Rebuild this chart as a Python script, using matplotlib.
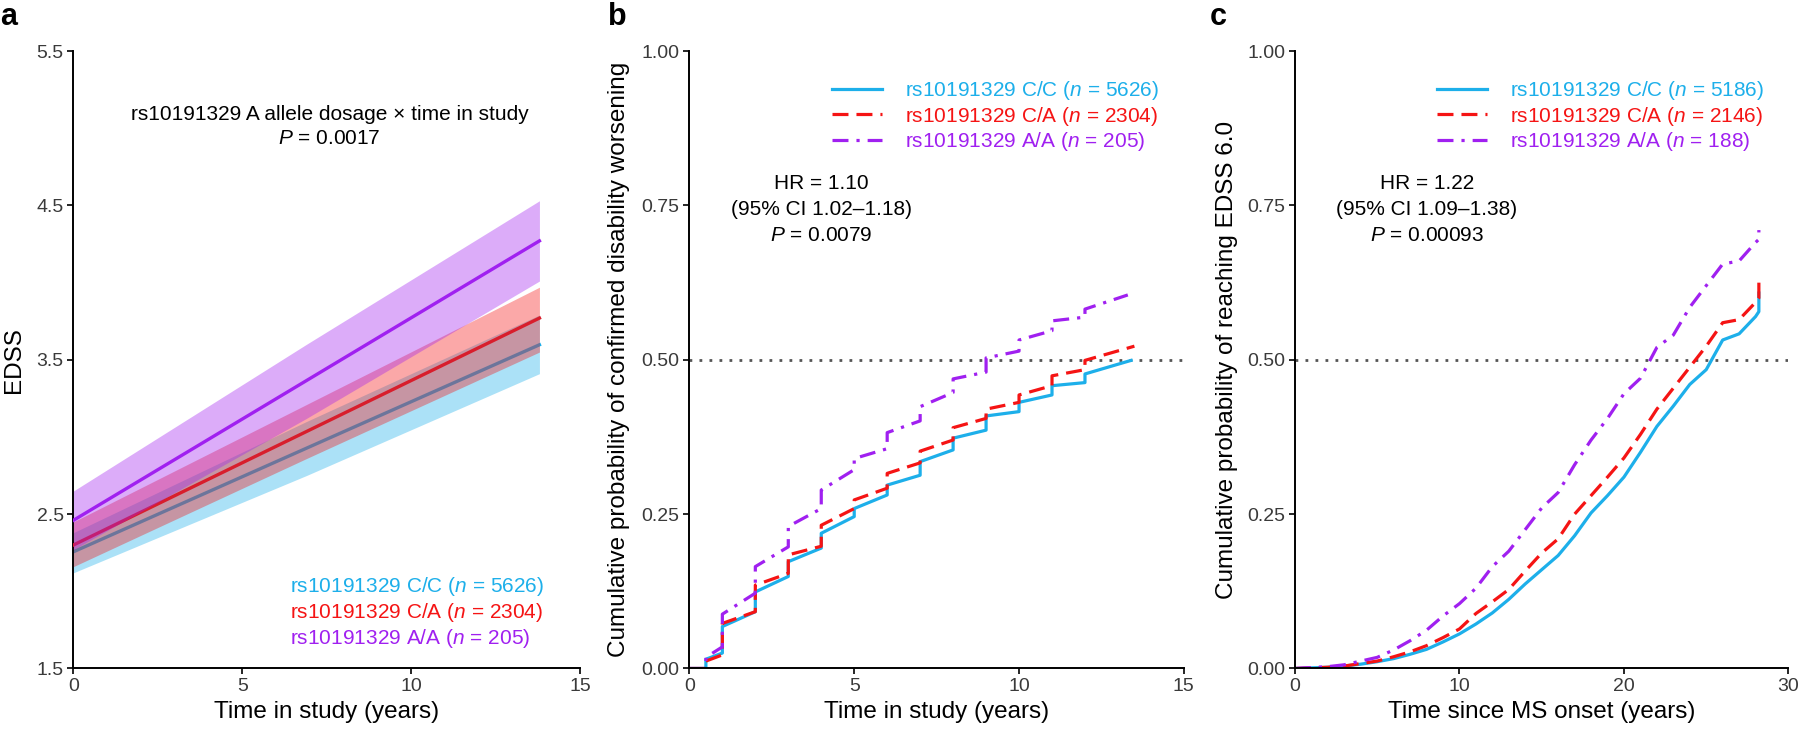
import numpy as np
import matplotlib
matplotlib.use("Agg")
import matplotlib.pyplot as plt

plt.rcParams['font.family'] = ['Liberation Sans', 'DejaVu Sans']
plt.rcParams['mathtext.fontset'] = 'custom'
plt.rcParams['mathtext.rm'] = 'Liberation Sans'
plt.rcParams['mathtext.it'] = 'Liberation Sans:italic'

BLUE = '#1DAFEA'
RED = '#F51414'
PURPLE = '#A020F0'

# ---- panel a: EDSS trajectories (fitted line + CI band)
a_time = [0, 6.9, 13.8]
a_cc_fit = [2.256, 2.927, 3.597]
a_cc_lo = [2.12, 2.75, 3.41]
a_cc_hi = [2.38, 3.10, 3.79]
a_ca_fit = [2.30, 3.035, 3.77]
a_ca_lo = [2.16, 2.86, 3.55]
a_ca_hi = [2.45, 3.21, 3.97]
a_aa_fit = [2.46, 3.365, 4.27]
a_aa_lo = [2.27, 3.12, 4.01]
a_aa_hi = [2.65, 3.60, 4.53]

# ---- panel b: confirmed disability worsening (KM, jumps at yearly visits)
b_steps = [0, 0.5, 0.5, 1, 1, 2, 2, 3, 3, 4, 4, 5, 5, 6, 6, 7, 7, 8, 8, 9, 9, 10, 10, 11, 11, 12, 12]
b_cc_t = b_steps + [13.4]
b_cc_p = [0, 0, 0.015, 0.025, 0.068, 0.092, 0.124, 0.149, 0.173, 0.195, 0.219, 0.246, 0.259, 0.281,
          0.297, 0.313, 0.335, 0.354, 0.373, 0.386, 0.409, 0.416, 0.431, 0.443, 0.458, 0.463, 0.477, 0.499]
b_ca_t = b_steps + [13.5]
b_ca_p = [0, 0, 0.012, 0.022, 0.073, 0.092, 0.135, 0.154, 0.184, 0.198, 0.232, 0.259, 0.273, 0.292,
          0.316, 0.333, 0.352, 0.37, 0.39, 0.405, 0.42, 0.431, 0.443, 0.458, 0.474, 0.484, 0.499, 0.522]
b_aa_t = b_steps + [13.3]
b_aa_p = [0, 0, 0.018, 0.035, 0.088, 0.122, 0.165, 0.197, 0.23, 0.259, 0.289, 0.322, 0.34, 0.356,
          0.382, 0.401, 0.424, 0.447, 0.469, 0.48, 0.503, 0.514, 0.532, 0.547, 0.563, 0.569, 0.582, 0.605]

# ---- panel c: reaching EDSS 6.0 since onset
c_t = [0, 2, 3, 4, 5, 6, 7, 8, 9, 10, 11, 12, 13, 14, 15, 16, 17, 18, 19, 20, 21, 22, 23, 24,
       25, 26, 27, 28, 28.2, 28.2]
c_cc_p = [0, 0.002, 0.004, 0.007, 0.011, 0.016, 0.023, 0.031, 0.043, 0.056, 0.072, 0.09, 0.112, 0.137,
          0.16, 0.183, 0.215, 0.252, 0.28, 0.31, 0.35, 0.392, 0.425, 0.46, 0.484, 0.532, 0.542, 0.57, 0.578, 0.608]
c_ca_p = [0, 0.002, 0.004, 0.008, 0.012, 0.019, 0.027, 0.037, 0.05, 0.064, 0.089, 0.108, 0.128, 0.158,
          0.187, 0.21, 0.25, 0.28, 0.31, 0.341, 0.379, 0.42, 0.454, 0.488, 0.522, 0.56, 0.565, 0.593, 0.60, 0.631]
c_aa_p = [0, 0.003, 0.006, 0.012, 0.018, 0.03, 0.045, 0.062, 0.085, 0.105, 0.13, 0.165, 0.19, 0.225,
          0.26, 0.285, 0.33, 0.37, 0.405, 0.445, 0.47, 0.52, 0.54, 0.585, 0.62, 0.655, 0.66, 0.69, 0.695, 0.71]

labels_b = ['rs10191329 C/C ($n$ = 5626)', 'rs10191329 C/A ($n$ = 2304)', 'rs10191329 A/A ($n$ = 205)']
labels_c = ['rs10191329 C/C ($n$ = 5186)', 'rs10191329 C/A ($n$ = 2146)', 'rs10191329 A/A ($n$ = 188)']

TICK_FS = 14
LAB_FS = 17.5
TXT_FS = 15

fig = plt.figure(figsize=(18, 7.29), dpi=100)
axa = fig.add_axes([0.0408, 0.083, 0.2814, 0.847])
axb = fig.add_axes([0.383, 0.083, 0.2747, 0.847])
axc = fig.add_axes([0.7194, 0.083, 0.2742, 0.847])

for ax in (axa, axb, axc):
    for s in ('top', 'right'):
        ax.spines[s].set_visible(False)
    for s in ('left', 'bottom'):
        ax.spines[s].set_linewidth(1.4)
    ax.tick_params(width=1.2, length=4, labelsize=TICK_FS, labelcolor='#3a3a3a', pad=3)
    ax.margins(0)

# panel a: each band then its line, so later bands tint earlier lines
groups_a = [(a_cc_fit, a_cc_lo, a_cc_hi, BLUE, BLUE),
            (a_ca_fit, a_ca_lo, a_ca_hi, RED, '#D81E2C'),
            (a_aa_fit, a_aa_lo, a_aa_hi, PURPLE, PURPLE)]
for i, (fit, lo, hi, col, lcol) in enumerate(groups_a):
    axa.fill_between(a_time, lo, hi, color=col, alpha=0.37, lw=0, zorder=2 * i + 1)
    axa.plot(a_time, fit, color=lcol, lw=2.4, zorder=2 * i + 2)
axa.set_xlim(0, 15)
axa.set_ylim(1.5, 5.5)
axa.set_xticks([0, 5, 10, 15])
axa.set_yticks([1.5, 2.5, 3.5, 4.5, 5.5])
axa.set_xlabel('Time in study (years)', fontsize=LAB_FS, labelpad=4)
axa.set_ylabel('EDSS', fontsize=LAB_FS)
axa.yaxis.set_label_coords(-0.096, 0.5)
axa.text(0.506, 0.898, 'rs10191329 A allele dosage × time in study', transform=axa.transAxes,
         ha='center', va='center', fontsize=TXT_FS)
axa.text(0.506, 0.858, '$P$ = 0.0017', transform=axa.transAxes, ha='center', va='center', fontsize=TXT_FS)
for yy, lab, col in zip([0.132, 0.090, 0.049], labels_b, [BLUE, RED, PURPLE]):
    axa.text(0.427, yy, lab, transform=axa.transAxes, ha='left', va='center', fontsize=TXT_FS, color=col)

# panels b and c
styles = [dict(color=BLUE, ls='-'),
          dict(color=RED, ls=(0, (5, 2.5))),
          dict(color=PURPLE, ls=(0, (5, 2.5, 1, 2.5)))]


def km_panel(ax, series, labels, xmax, xticks, xlabel, ylabel, ann, ylab_x):
    handles = []
    for (t, p), st, lab in zip(series, styles, labels):
        h, = ax.plot(t, p, lw=2.3, label=lab, **st)
        handles.append(h)
    ax.axhline(0.5, color='#555555', lw=2, ls=(0, (1, 2.6)), zorder=0)
    ax.set_xlim(0, xmax)
    ax.set_ylim(0, 1)
    ax.set_xticks(xticks)
    ax.set_yticks([0, 0.25, 0.5, 0.75, 1.0])
    ax.set_yticklabels(['0.00', '0.25', '0.50', '0.75', '1.00'])
    ax.set_xlabel(xlabel, fontsize=LAB_FS, labelpad=4)
    ax.set_ylabel(ylabel, fontsize=LAB_FS)
    ax.yaxis.set_label_coords(ylab_x, 0.5)
    ax.legend(handles=handles, loc='upper left', bbox_to_anchor=(0.288, 0.954), frameon=False,
              fontsize=TXT_FS, handlelength=2.4, handletextpad=1.1, labelspacing=0.11,
              borderpad=0, borderaxespad=0, labelcolor='linecolor')
    ax.text(0.267, 0.744, ann, transform=ax.transAxes, ha='center', va='center',
            fontsize=TXT_FS, linespacing=1.47)


km_panel(axb, [(b_cc_t, b_cc_p), (b_ca_t, b_ca_p), (b_aa_t, b_aa_p)], labels_b, 15, [0, 5, 10, 15],
         'Time in study (years)', 'Cumulative probability of confirmed disability worsening',
         'HR = 1.10\n(95% CI 1.02–1.18)\n$P$ = 0.0079', -0.12)
km_panel(axc, [(c_t, c_cc_p), (c_t, c_ca_p), (c_t, c_aa_p)], labels_c, 30, [0, 10, 20, 30],
         'Time since MS onset (years)', 'Cumulative probability of reaching EDSS 6.0',
         'HR = 1.22\n(95% CI 1.09–1.38)\n$P$ = 0.00093', -0.115)

for x, lab in [(0.0, 'a'), (0.338, 'b'), (0.672, 'c')]:
    fig.text(x, 0.966, lab, fontsize=22, fontweight='bold', ha='left', va='baseline')

fig.savefig('out.png', dpi=100)
